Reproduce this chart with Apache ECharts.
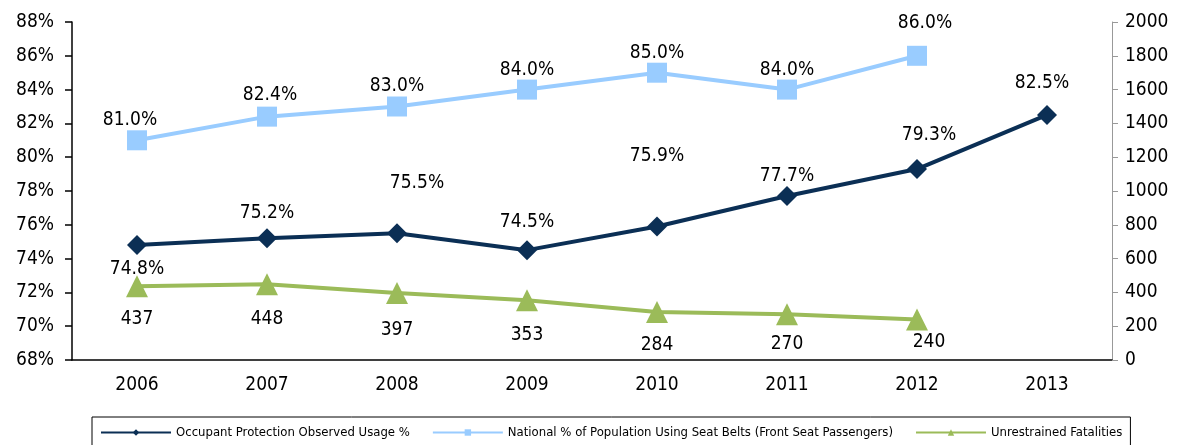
<html>
<head>
    <meta charset="utf-8">
    <title>Seat belt usage</title>
    <script src="https://cdn.jsdelivr.net/npm/echarts@6.0.0/dist/echarts.min.js"></script>
    <style>
        body { margin: 0; background: #fff; }
    </style>
</head>
<body>
    <div id="chartmain" style="width:1184px; height:445px;"></div>

    <script type="text/javascript">
        var years = ['2006', '2007', '2008', '2009', '2010', '2011', '2012', '2013'];
        var observedUsage = [74.8, 75.2, 75.5, 74.5, 75.9, 77.7, 79.3, 82.5];
        var nationalUsage = [81.0, 82.4, 83.0, 84.0, 85.0, 84.0, 86.0, null];
        var fatalities = [437, 448, 397, 353, 284, 270, 240, null];

        // label offsets [dx, dy] relative to the point
        var observedOffsets = [[0, 24], [0, -25], [20, -50], [0, -28], [0, -70], [0, -20], [12, -34], [-5, -32]];
        var nationalOffsets = [[-7, -20], [3, -22], [0, -20], [0, -20], [0, -20], [0, -20], [8, -33], [0, 0]];
        var fatalOffsets = [[0, 33], [0, 35], [0, 37], [0, 35], [0, 33], [0, 30], [12, 23], [0, 0]];

        var font = '"DejaVu Sans Condensed", "Liberation Sans Narrow", "Arial Narrow", sans-serif';

        function withLabels(values, offsets, fmt) {
            return values.map(function (v, i) {
                return {
                    value: v,
                    label: { offset: offsets[i], formatter: fmt }
                };
            });
        }

        var myChart = echarts.init(document.getElementById('chartmain'));

        var labelBase = {
            show: true,
            position: 'inside',
            color: '#000',
            fontSize: 19,
            fontFamily: font
        };

        myChart.setOption({
            animation: false,
            textStyle: { fontFamily: font },
            grid: { left: 72, right: 72, top: 22, bottom: 85 },
            legend: {
                bottom: -6,
                left: 92,
                width: 1043,
                itemWidth: 70,
                itemHeight: 8,
                itemGap: 22,
                padding: [9, 8, 12, 8],
                borderColor: '#000',
                borderWidth: 1,
                textStyle: { fontSize: 13, color: '#000', fontFamily: font },
                data: [
                    'Occupant Protection Observed Usage %',
                    'National % of Population Using Seat Belts (Front Seat Passengers)',
                    'Unrestrained Fatalities'
                ]
            },
            xAxis: {
                type: 'category',
                data: years,
                axisLine: { lineStyle: { color: '#000', width: 1.5 } },
                axisTick: { length: 8, lineStyle: { color: '#000', width: 1.5 } },
                axisLabel: { color: '#000', fontSize: 19, margin: 16 }
            },
            yAxis: [
                {
                    type: 'value',
                    min: 68,
                    max: 88,
                    interval: 2,
                    splitLine: { show: false },
                    axisLine: { show: true, lineStyle: { color: '#000', width: 1.5 } },
                    axisTick: { show: true, length: 7, lineStyle: { color: '#000', width: 1.5 } },
                    axisLabel: { color: '#000', fontSize: 19, margin: 18, formatter: '{value}%' }
                },
                {
                    type: 'value',
                    min: 0,
                    max: 2000,
                    interval: 200,
                    splitLine: { show: false },
                    axisLine: { show: true, lineStyle: { color: '#999' } },
                    axisTick: { show: true, length: 6, lineStyle: { color: '#999' } },
                    axisLabel: {
                        color: '#000', fontSize: 19, margin: 13,
                        formatter: function (v) { return String(v); }
                    }
                }
            ],
            series: [
                {
                    name: 'Occupant Protection Observed Usage %',
                    type: 'line',
                    yAxisIndex: 0,
                    symbol: 'diamond',
                    symbolSize: 20,
                    lineStyle: { width: 4, color: '#0b2f55' },
                    itemStyle: { color: '#0b2f55' },
                    label: labelBase,
                    data: withLabels(observedUsage, observedOffsets, function (p) {
                        return p.value.toFixed(1) + '%';
                    })
                },
                {
                    name: 'National % of Population Using Seat Belts (Front Seat Passengers)',
                    type: 'line',
                    yAxisIndex: 0,
                    symbol: 'rect',
                    symbolSize: 20,
                    lineStyle: { width: 4, color: '#99ccff' },
                    itemStyle: { color: '#99ccff' },
                    label: labelBase,
                    data: withLabels(nationalUsage, nationalOffsets, function (p) {
                        return p.value.toFixed(1) + '%';
                    })
                },
                {
                    name: 'Unrestrained Fatalities',
                    type: 'line',
                    yAxisIndex: 1,
                    symbol: 'triangle',
                    symbolSize: 22,
                    lineStyle: { width: 4, color: '#9bbb59' },
                    itemStyle: { color: '#9bbb59' },
                    label: labelBase,
                    data: withLabels(fatalities, fatalOffsets, function (p) {
                        return String(p.value);
                    })
                }
            ]
        });
    </script>
</body>
</html>
